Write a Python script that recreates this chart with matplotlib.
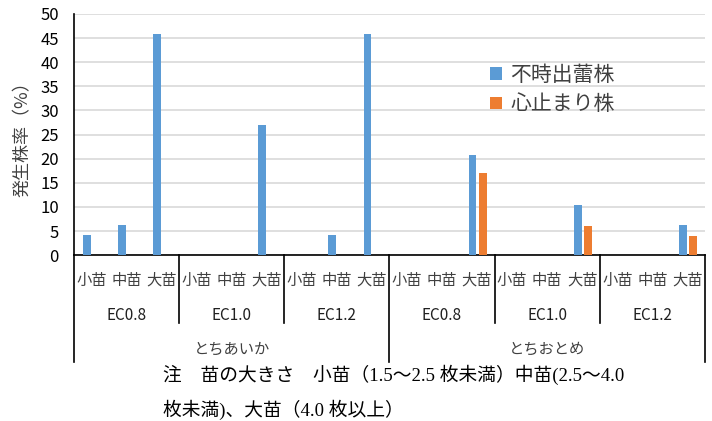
import matplotlib
matplotlib.use('Agg')
import matplotlib.pyplot as plt
import matplotlib.transforms as mtransforms
import numpy as np

plt.rcParams['font.family'] = ['Noto Sans CJK JP', 'DejaVu Sans']

sizes = ['小苗', '中苗', '大苗']
ec_levels = ['EC0.8', 'EC1.0', 'EC1.2']
varieties = ['とちあいか', 'とちおとめ']
series_names = ['不時出蕾株', '心止まり株']

# rate (%) per category, in order variety -> EC -> seedling size
futoki = [4.2, 6.2, 45.8, 0, 0, 27.0, 0, 4.2, 45.8,
          0, 0, 20.8, 0, 0, 10.4, 0, 0, 6.3]
shindome = [0, 0, 0, 0, 0, 0, 0, 0, 0,
            0, 0, 17.0, 0, 0, 6.0, 0, 0, 4.0]

note_lines = ['注　苗の大きさ　小苗（1.5～2.5 枚未満）中苗(2.5～4.0',
              '枚未満)、大苗（4.0 枚以上）']

fig = plt.figure(figsize=(7.12, 4.21), dpi=100)
ax = fig.add_axes([0.104, 0.394, 0.886, 0.573])

x = np.arange(len(futoki))
w = 0.22
ax.bar(x - 0.13, futoki, width=w, color='#5B9BD5', label=series_names[0], zorder=3)
ax.bar(x + 0.16, shindome, width=w, color='#ED7D31', label=series_names[1], zorder=3)

ax.set_xlim(-0.5, len(futoki) - 0.5)
ax.set_ylim(0, 50)
ax.set_yticks(range(0, 51, 5))
ax.yaxis.grid(True, color='#D9D9D9', linewidth=1.2)
ax.set_axisbelow(True)
ax.tick_params(axis='y', length=0, labelsize=12, pad=11)
ax.set_xticks([])
for s in ['top', 'right']:
    ax.spines[s].set_visible(False)
ax.spines['left'].set_linewidth(1.2)
ax.spines['bottom'].set_linewidth(1.2)
ax.set_ylabel('発生株率（%）', fontsize=13, color='#404040', labelpad=6)

# multi-level category axis below the plot
trans = mtransforms.blended_transform_factory(ax.transData, ax.transAxes)
n_ec = len(ec_levels)
n_sz = len(sizes)
for i in range(len(futoki)):
    ax.text(i, -0.104, sizes[i % n_sz], transform=trans, ha='center', va='center',
            fontsize=11, color='#404040')
for g in range(len(varieties) * n_ec):
    ax.text(g * n_sz + 1, -0.249, ec_levels[g % n_ec], transform=trans, ha='center',
            va='center', fontsize=11, color='#202020')
for v, name in enumerate(varieties):
    ax.text(v * n_ec * n_sz + (n_ec * n_sz - 1) / 2, -0.39, name, transform=trans,
            ha='center', va='center', fontsize=11, color='#404040')

for b in range(len(futoki) // n_sz + 1):
    xb = b * n_sz - 0.5
    y_end = -0.444 if b % n_ec == 0 else -0.282
    ax.plot([xb, xb], [0, y_end], transform=trans, color='black', linewidth=1.2,
            clip_on=False)

ax.legend(loc='upper left', bbox_to_anchor=(0.63, 0.87), frameon=False,
          fontsize=15, handlelength=0.55, handleheight=0.55, handletextpad=0.4,
          labelspacing=0.35, labelcolor='#404040')

fig.text(0.229, 0.109, note_lines[0], ha='left', va='center', fontsize=13.5,
         family=['Liberation Serif', 'Noto Sans CJK JP'])
fig.text(0.229, 0.026, note_lines[1], ha='left', va='center', fontsize=13.5,
         family=['Liberation Serif', 'Noto Sans CJK JP'])

fig.savefig('out.png', dpi=100, facecolor='white')
